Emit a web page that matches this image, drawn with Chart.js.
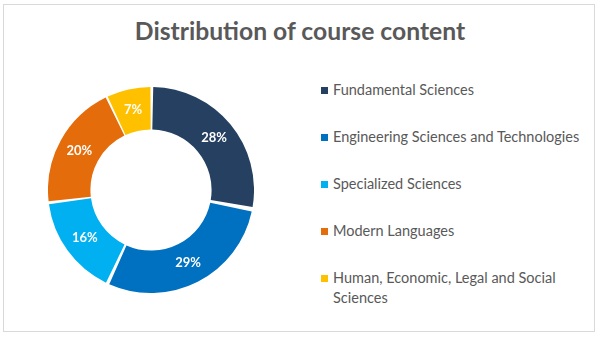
<!DOCTYPE html>
<html>
<head>
<meta charset="utf-8">
<script src="https://cdn.jsdelivr.net/npm/chart.js@4/dist/chart.umd.min.js"></script>
<style>
  html, body { margin: 0; padding: 0; background: #fff; }
  #frame {
    position: absolute; left: 3px; top: 4px; width: 592px; height: 328px;
    border: 1px solid #d9d9d9; box-sizing: border-box;
  }
  #title {
    position: absolute; left: 0; top: 16px; width: 600px; text-align: center;
    font-family: Lato, sans-serif; font-weight: bold; font-size: 24.7px; color: #595959;
  }
  #donut { position: absolute; left: 48px; top: 87px; width: 206px; height: 206px; }
  #legend {
    position: absolute; left: 321px; top: 80px; width: 262px;
    font-family: Lato, sans-serif; font-size: 14.5px; color: #595959;
  }
  .item { position: relative; padding-left: 12px; line-height: 20px; height: 47px; }
  .box { position: absolute; left: 0; top: 7px; width: 7px; height: 7px; }
</style>
</head>
<body>
<div id="frame"></div>
<div id="title">Distribution of course content</div>
<div id="donut"><canvas id="chart"></canvas></div>
<div id="legend"></div>
<script>
// chart data
const categories = [
  'Fundamental Sciences',
  'Engineering Sciences and Technologies',
  'Specialized Sciences',
  'Modern Languages',
  'Human, Economic, Legal and Social Sciences'
];
const shares = [28, 29, 16, 20, 7];
const colors = ['#254061', '#0070C0', '#00B0F0', '#E46C0A', '#FFC000'];

// legend built from the same arrays
const legendEl = document.getElementById('legend');
categories.forEach((name, i) => {
  const row = document.createElement('div');
  row.className = 'item';
  row.innerHTML = `<span class="box" style="background:${colors[i]}"></span>${name}`;
  legendEl.appendChild(row);
});

// draw percentage labels at each arc's middle
const sliceLabels = {
  id: 'sliceLabels',
  afterDatasetsDraw(chart) {
    const { ctx } = chart;
    const meta = chart.getDatasetMeta(0);
    ctx.save();
    ctx.fillStyle = '#ffffff';
    ctx.font = 'bold 13px Lato, sans-serif';
    ctx.textAlign = 'center';
    ctx.textBaseline = 'middle';
    meta.data.forEach((arc, i) => {
      const pos = arc.tooltipPosition();
      ctx.fillText(`${shares[i]}%`, pos.x, pos.y);
    });
    ctx.restore();
  }
};

new Chart(document.getElementById('chart'), {
  type: 'doughnut',
  data: {
    labels: categories,
    datasets: [{
      data: shares,
      backgroundColor: colors,
      borderWidth: 0,
      spacing: 4
    }]
  },
  options: {
    responsive: true,
    maintainAspectRatio: false,
    animation: false,
    cutout: '58%',
    layout: { padding: 0 },
    plugins: {
      legend: { display: false },
      tooltip: { enabled: false }
    }
  },
  plugins: [sliceLabels]
});
</script>
</body>
</html>
